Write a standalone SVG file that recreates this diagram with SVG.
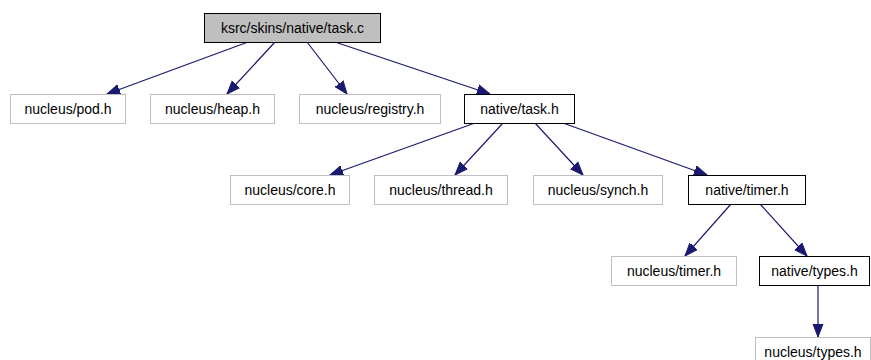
<svg xmlns="http://www.w3.org/2000/svg" width="871" height="360" viewBox="0 0 871 360">
<style>
.n rect{fill:#ffffff;stroke:#bfbfbf;stroke-width:1}
.n.b rect{stroke:#000000}
.n.r rect{fill:#bfbfbf;stroke:#000000}
.n text{font-family:"Liberation Sans",Arial,sans-serif;font-size:14px;fill:#000000;text-anchor:middle}
.e line{stroke:#191970;stroke-width:1.2;fill:none}
</style>
<defs>
<marker id="a" markerUnits="userSpaceOnUse" markerWidth="14" markerHeight="12" viewBox="0 0 14 12" refX="13" refY="6" orient="auto">
<path d="M0,1 L13,6 L0,11 Z" fill="#191970" stroke="#191970"/>
</marker>
</defs>
<rect width="871" height="360" fill="#ffffff"/>
<g id="edges" class="e">
<line x1="248" y1="42" x2="107" y2="94" marker-end="url(#a)"/>
<line x1="275" y1="42" x2="227" y2="94" marker-end="url(#a)"/>
<line x1="307" y1="42" x2="347" y2="94" marker-end="url(#a)"/>
<line x1="335" y1="42" x2="490" y2="94" marker-end="url(#a)"/>
<line x1="475" y1="123" x2="330" y2="175" marker-end="url(#a)"/>
<line x1="503" y1="123" x2="455" y2="175" marker-end="url(#a)"/>
<line x1="535" y1="123" x2="583" y2="175" marker-end="url(#a)"/>
<line x1="563" y1="123" x2="707" y2="175" marker-end="url(#a)"/>
<line x1="731" y1="204" x2="685" y2="256" marker-end="url(#a)"/>
<line x1="760" y1="204" x2="807" y2="256" marker-end="url(#a)"/>
<line x1="818" y1="286" x2="818" y2="337" marker-end="url(#a)"/>
</g>
<g id="task_c" class="n r"><rect x="204.5" y="13.5" width="176" height="29"/><text x="292.5" y="33">ksrc/skins/native/task.c</text></g>
<g id="pod" class="n"><rect x="10.5" y="94.5" width="115" height="29"/><text x="68" y="114">nucleus/pod.h</text></g>
<g id="heap" class="n"><rect x="150.5" y="94.5" width="124" height="29"/><text x="212.5" y="114">nucleus/heap.h</text></g>
<g id="registry" class="n"><rect x="299.5" y="94.5" width="141" height="29"/><text x="370" y="114">nucleus/registry.h</text></g>
<g id="task_h" class="n b"><rect x="464.5" y="94.5" width="110" height="29"/><text x="519.5" y="114">native/task.h</text></g>
<g id="core" class="n"><rect x="230.5" y="175.5" width="119" height="29"/><text x="290" y="195">nucleus/core.h</text></g>
<g id="thread" class="n"><rect x="374.5" y="175.5" width="133" height="29"/><text x="441" y="195">nucleus/thread.h</text></g>
<g id="synch" class="n"><rect x="533.5" y="175.5" width="129" height="29"/><text x="598" y="195">nucleus/synch.h</text></g>
<g id="timer_h" class="n b"><rect x="688.5" y="175.5" width="117" height="29"/><text x="747" y="195">native/timer.h</text></g>
<g id="ntimer" class="n"><rect x="611.5" y="256.5" width="125" height="29"/><text x="674" y="276">nucleus/timer.h</text></g>
<g id="types_h" class="n b"><rect x="759.5" y="256.5" width="110" height="29"/><text x="814.5" y="276">native/types.h</text></g>
<g id="ntypes" class="n"><rect x="755.5" y="337.5" width="115" height="29"/><text x="813" y="357">nucleus/types.h</text></g>
</svg>
